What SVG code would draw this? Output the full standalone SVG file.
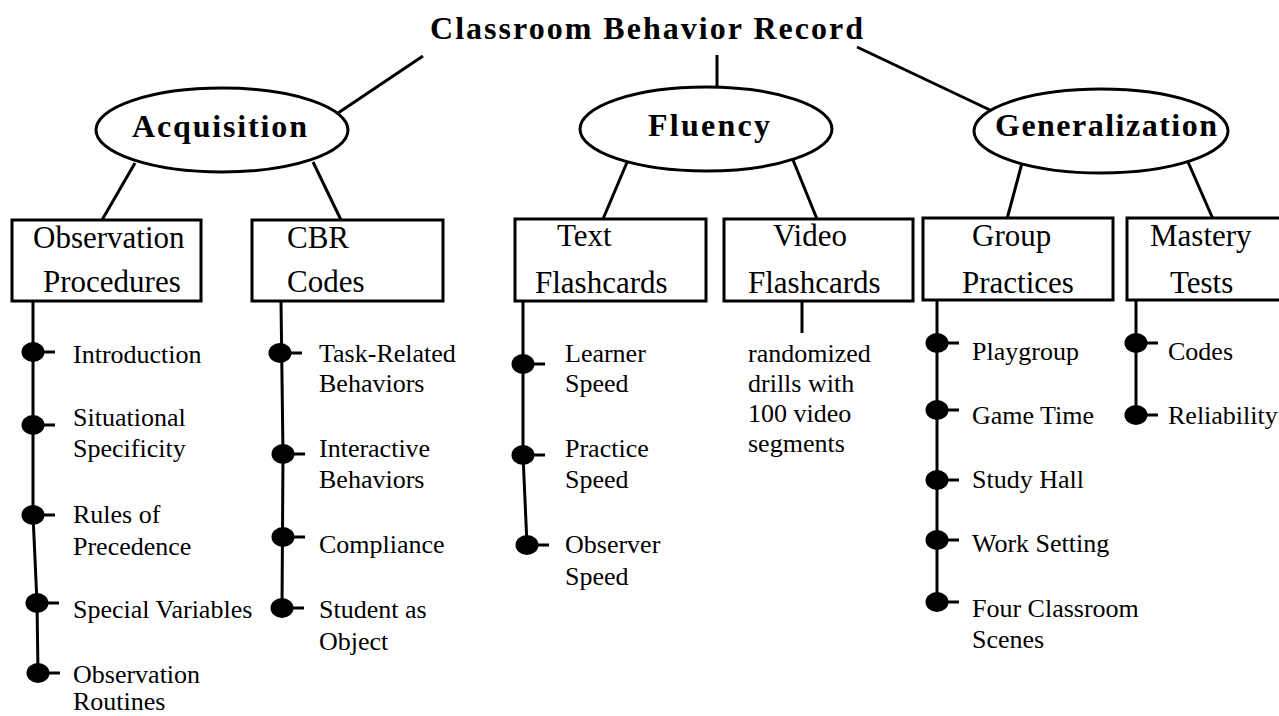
<svg xmlns="http://www.w3.org/2000/svg" width="1279" height="716" viewBox="0 0 1279 716">
<style>
.ln{stroke:#000;stroke-width:3;fill:none;stroke-linecap:butt}
.stem{stroke:#000;stroke-width:3;fill:none}
.ov{fill:#fff;stroke:#000;stroke-width:3}
.bx{fill:#fff;stroke:#000;stroke-width:3}
.hd{font-family:"Liberation Serif","Times New Roman",serif;font-weight:bold;font-size:32px;fill:#000}
.bt{font-family:"Liberation Serif","Times New Roman",serif;font-size:31px;fill:#000}
.lb{font-family:"Liberation Serif","Times New Roman",serif;font-size:26px;fill:#000}
.dot{fill:#000}
</style>
<defs>
<g id="bul"><ellipse class="dot" cx="0" cy="0" rx="11.5" ry="10"/><line x1="0" y1="0" x2="22" y2="0" stroke="#000" stroke-width="3"/></g>
</defs>

<g id="connectors">
<line class="ln" x1="423" y1="56" x2="338" y2="113"/>
<line class="ln" x1="717" y1="55" x2="717" y2="88"/>
<line class="ln" x1="857" y1="47" x2="990" y2="110"/>
<line class="ln" x1="135" y1="163" x2="102" y2="220"/>
<line class="ln" x1="313" y1="162" x2="341" y2="220"/>
<line class="ln" x1="628" y1="160" x2="603" y2="219"/>
<line class="ln" x1="793" y1="160" x2="817" y2="219"/>
<line class="ln" x1="1022" y1="163" x2="1007" y2="219"/>
<line class="ln" x1="1188" y1="162" x2="1213" y2="219"/>
<polyline class="stem" points="33,301 33,515 37,603 38,673"/>
<polyline class="stem" points="281,301 283,454 282,608"/>
<polyline class="stem" points="523,301 523,455 527,545"/>
<line class="stem" x1="802" y1="301" x2="802" y2="333"/>
<line class="stem" x1="937" y1="301" x2="937" y2="602"/>
<line class="stem" x1="1136" y1="301" x2="1136" y2="415"/>
</g>

<g id="title">
<text class="hd" x="430" y="39" textLength="433" lengthAdjust="spacing">Classroom Behavior Record</text>
</g>

<g id="acquisition">
<ellipse class="ov" cx="222" cy="130" rx="126" ry="42"/>
<text class="hd" x="132" y="137" textLength="175" lengthAdjust="spacing">Acquisition</text>
</g>
<g id="fluency">
<ellipse class="ov" cx="706" cy="129" rx="126" ry="42"/>
<text class="hd" x="648" y="136" textLength="122" lengthAdjust="spacing">Fluency</text>
</g>
<g id="generalization">
<ellipse class="ov" cx="1101" cy="131" rx="127" ry="42"/>
<text class="hd" x="995" y="136" textLength="222" lengthAdjust="spacing">Generalization</text>
</g>

<g id="observation-procedures">
<rect class="bx" x="12" y="220" width="189" height="81"/>
<text class="bt" x="33" y="248">Observation</text>
<text class="bt" x="43" y="292">Procedures</text>
</g>
<g id="cbr-codes">
<rect class="bx" x="252" y="220" width="191" height="81"/>
<text class="bt" x="287" y="248">CBR</text>
<text class="bt" x="287" y="292">Codes</text>
</g>
<g id="text-flashcards">
<rect class="bx" x="515" y="219" width="191" height="82"/>
<text class="bt" x="557" y="246">Text</text>
<text class="bt" x="535" y="293">Flashcards</text>
</g>
<g id="video-flashcards">
<rect class="bx" x="724" y="219" width="189" height="82"/>
<text class="bt" x="773" y="246">Video</text>
<text class="bt" x="748" y="293">Flashcards</text>
</g>
<g id="group-practices">
<rect class="bx" x="923" y="218" width="190" height="82"/>
<text class="bt" x="972" y="246">Group</text>
<text class="bt" x="962" y="293">Practices</text>
</g>
<g id="mastery-tests">
<rect class="bx" x="1127" y="218" width="160" height="82"/>
<text class="bt" x="1150" y="246">Mastery</text>
<text class="bt" x="1170" y="293">Tests</text>
</g>

<g id="obs-items">
<use href="#bul" x="33" y="352"/><text class="lb" x="73" y="363">Introduction</text>
<use href="#bul" x="33" y="425"/><text class="lb" x="73" y="426">Situational</text><text class="lb" x="73" y="457">Specificity</text>
<use href="#bul" x="33" y="515"/><text class="lb" x="73" y="523">Rules of</text><text class="lb" x="73" y="555">Precedence</text>
<use href="#bul" x="37" y="603"/><text class="lb" x="73" y="618">Special Variables</text>
<use href="#bul" x="38" y="673"/><text class="lb" x="73" y="683">Observation</text><text class="lb" x="73" y="710">Routines</text>
</g>
<g id="cbr-items">
<use href="#bul" x="280" y="353"/><text class="lb" x="319" y="362">Task-Related</text><text class="lb" x="319" y="392">Behaviors</text>
<use href="#bul" x="283" y="454"/><text class="lb" x="319" y="457">Interactive</text><text class="lb" x="319" y="488">Behaviors</text>
<use href="#bul" x="283" y="537"/><text class="lb" x="319" y="553">Compliance</text>
<use href="#bul" x="282" y="608"/><text class="lb" x="319" y="618">Student as</text><text class="lb" x="319" y="650">Object</text>
</g>
<g id="text-items">
<use href="#bul" x="523" y="364"/><text class="lb" x="565" y="362">Learner</text><text class="lb" x="565" y="392">Speed</text>
<use href="#bul" x="523" y="455"/><text class="lb" x="565" y="457">Practice</text><text class="lb" x="565" y="488">Speed</text>
<use href="#bul" x="527" y="545"/><text class="lb" x="565" y="553">Observer</text><text class="lb" x="565" y="585">Speed</text>
</g>
<g id="video-items">
<text class="lb" x="748" y="362">randomized</text>
<text class="lb" x="748" y="392">drills with</text>
<text class="lb" x="748" y="422">100 video</text>
<text class="lb" x="748" y="452">segments</text>
</g>
<g id="group-items">
<use href="#bul" x="937" y="343"/><text class="lb" x="972" y="360">Playgroup</text>
<use href="#bul" x="937" y="410"/><text class="lb" x="972" y="424">Game Time</text>
<use href="#bul" x="937" y="480"/><text class="lb" x="972" y="488">Study Hall</text>
<use href="#bul" x="937" y="540"/><text class="lb" x="972" y="552">Work Setting</text>
<use href="#bul" x="937" y="602"/><text class="lb" x="972" y="617">Four Classroom</text><text class="lb" x="972" y="648">Scenes</text>
</g>
<g id="mastery-items">
<use href="#bul" x="1136" y="343"/><text class="lb" x="1168" y="360">Codes</text>
<use href="#bul" x="1136" y="415"/><text class="lb" x="1168" y="424">Reliability</text>
</g>
</svg>
